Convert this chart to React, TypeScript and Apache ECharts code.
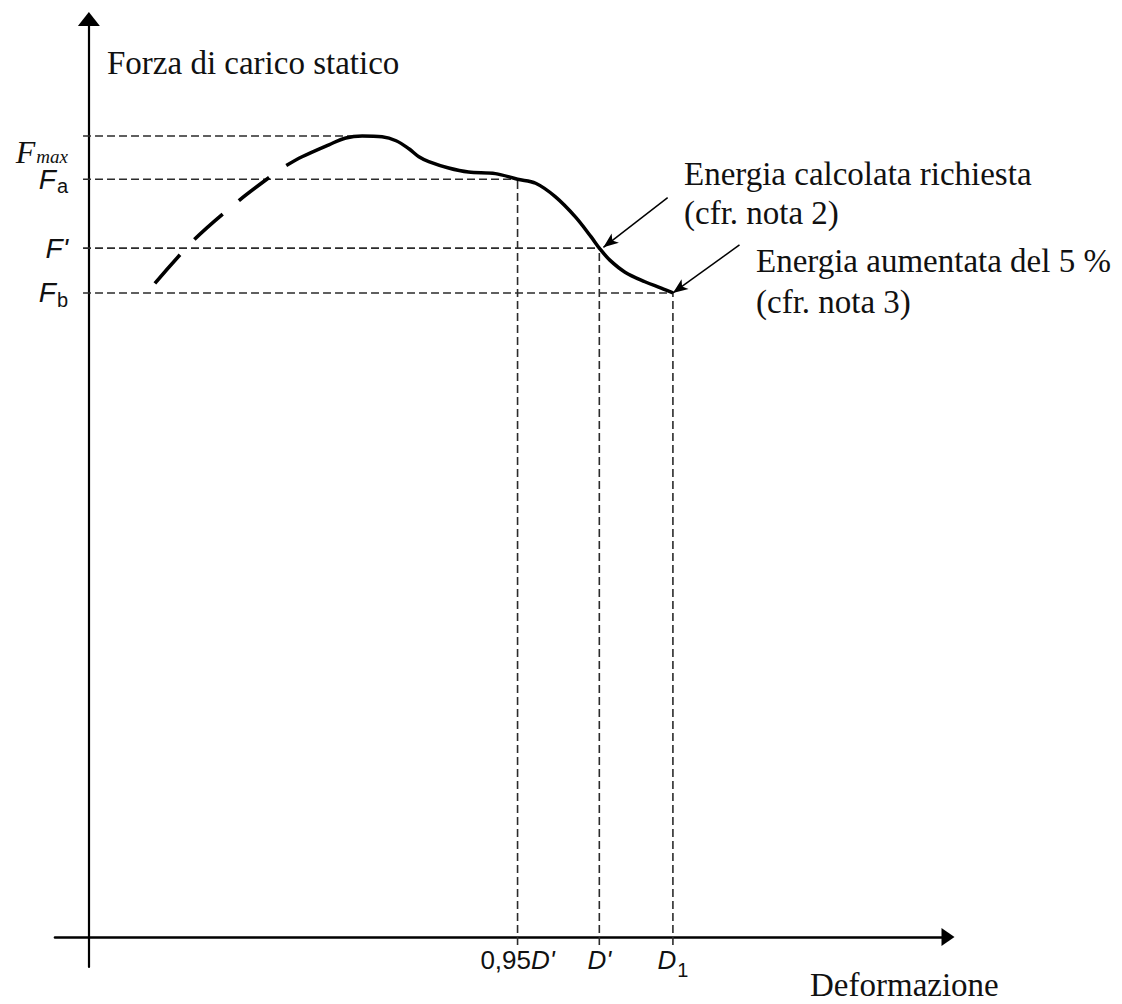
import React, { useEffect, useRef } from 'react';
import * as echarts from 'echarts';

// Force levels (arbitrary units, Fmax = 100)
const levelValues = [100, 94.6, 86.0, 80.4];
const levelRich = ['{fs|F}{ms|max}', '{f|F}{s|a}', "{f|F'}", '{f|F}{s|b}'];
const levelGuideEnds = [45.7, 73.4, 87.4, 100];

// Deformation marks (arbitrary units, D1 = 100)
const deformValues = [73.4, 87.4, 100];
const deformRich = ["{n|0,95}{i|D'}", "{i|D'}", '{i|D}{s|1}'];
const deformGuideTops = [94.6, 86.0, 80.4];

// Initial (dashed) part of the load curve
const risingX = [11.3, 18.1, 25.8, 31.2];
const risingY = [81.6, 87.1, 92.0, 95.0];

// Solid part of the load curve
const curveX = [33.8, 36.5, 41.1, 44.0, 46.8, 50.2, 52.6, 54.8, 56.5, 58.2, 61.6, 65.0, 69.6, 73.4, 76.5, 79.9, 83.3, 86.0, 87.4, 89.2, 91.8, 95.2, 98.0, 100];
const curveY = [96.3, 97.4, 98.9, 99.75, 100, 99.9, 99.4, 98.4, 97.4, 96.8, 96.0, 95.5, 95.3, 94.6, 94.1, 92.4, 89.9, 87.4, 86.0, 84.5, 83.0, 81.8, 81.0, 80.4];

// Annotation arrows
const arrowFromX = [99.1, 111.4];
const arrowFromY = [92.3, 86.4];
const arrowToX = [88.1, 100];
const arrowToY = [86.1, 80.4];

const yAxisTitle = 'Forza di carico statico';
const xAxisTitle = 'Deformazione';
const noteLines = [
  ['Energia calcolata richiesta', '(cfr. nota 2)'],
  ['Energia aumentata del 5 %', '(cfr. nota 3)'],
];

const SERIF = '"Liberation Serif", "Times New Roman", serif';
const SANS = '"Liberation Sans", Arial, sans-serif';

const Y_MIN = -3.74;
const Y_MAX = 114.6;

export default function App() {
  const ref = useRef<HTMLDivElement>(null);

  useEffect(() => {
    if (!ref.current) return;
    const chart = echarts.init(ref.current, undefined, { renderer: 'svg' });

    const guideStyle = { type: [8, 4] as any, width: 1.6, color: '#2b2b2b' };
    const series: any[] = [];

    levelValues.forEach((y, i) => {
      series.push({
        type: 'line', silent: true, symbol: 'none',
        data: [[-1, y], [levelGuideEnds[i], y]],
        lineStyle: guideStyle,
      });
    });
    deformValues.forEach((x, i) => {
      series.push({
        type: 'line', silent: true, symbol: 'none',
        data: [[x, -1], [x, deformGuideTops[i]]],
        lineStyle: guideStyle,
      });
    });

    series.push({
      type: 'line', silent: true, symbol: 'none', smooth: 0.3,
      data: risingX.map((x, i) => [x, risingY[i]]),
      lineStyle: { color: '#000', width: 3.6, type: [38, 21] as any },
    });

    series.push({
      type: 'line', silent: true, symbol: 'none', smooth: 0.35,
      data: curveX.map((x, i) => [x, curveY[i]]),
      lineStyle: { color: '#000', width: 3.5 },
      markLine: {
        silent: true,
        symbol: ['none', 'arrow'],
        symbolSize: [9, 15],
        label: { show: false },
        lineStyle: { color: '#000', width: 1.5, type: 'solid' },
        emphasis: { disabled: true },
        data: arrowFromX.map((x, i) => [
          { coord: [x, arrowFromY[i]] },
          { coord: [arrowToX[i], arrowToY[i]] },
        ]),
      },
    });

    const textStyle = (text: string) => ({ text, font: `33px ${SERIF}`, fill: '#111', verticalAlign: 'middle' });
    const graphicTexts: any[] = [
      { type: 'text', x: 107, y: 63, style: textStyle(yAxisTitle) },
      { type: 'text', x: 810, y: 985, style: textStyle(xAxisTitle) },
      { type: 'text', x: 684, y: 174, style: textStyle(noteLines[0][0]) },
      { type: 'text', x: 684, y: 213, style: textStyle(noteLines[0][1]) },
      { type: 'text', x: 756, y: 261, style: textStyle(noteLines[1][0]) },
      { type: 'text', x: 756, y: 302, style: textStyle(noteLines[1][1]) },
    ];

    const labelFor = (v: number) => {
      const i = levelValues.findIndex((d) => Math.abs(d - v) < 1e-6);
      return i >= 0 ? levelRich[i] : '';
    };

    const richY = {
      f: { fontFamily: SANS, fontStyle: 'italic', fontSize: 28, lineHeight: 28, verticalAlign: 'top', color: '#111' },
      s: { fontFamily: SANS, fontSize: 20, lineHeight: 17, verticalAlign: 'top', padding: [11, 0, 0, 1], color: '#111' },
      fs: { fontFamily: SERIF, fontStyle: 'italic', fontSize: 32, lineHeight: 27, verticalAlign: 'top', color: '#111' },
      ms: { fontFamily: SERIF, fontStyle: 'italic', fontSize: 19, lineHeight: 16, verticalAlign: 'top', padding: [11, 0, 0, 1], color: '#111' },
    };

    chart.setOption({
      animation: false,
      backgroundColor: '#fff',
      grid: { left: 55, right: 174, top: 19, bottom: 37, containLabel: false, outerBoundsMode: 'none' },
      xAxis: {
        type: 'value', min: -5.8, max: 147.1,
        splitLine: { show: false },
        axisTick: { show: false },
        axisLine: {
          show: true, onZero: true,
          symbol: ['none', 'triangle'], symbolSize: [18, 13],
          lineStyle: { color: '#000', width: 2.6 },
        },
        axisLabel: {
          customValues: deformValues,
          margin: -20,
          hideOverlap: false,
          formatter: (v: number) => {
            const i = deformValues.findIndex((d) => Math.abs(d - v) < 1e-6);
            return i >= 0 ? deformRich[i] : '';
          },
          rich: {
            n: { fontFamily: SANS, fontSize: 26, lineHeight: 26, verticalAlign: 'top', color: '#111' },
            i: { fontFamily: SANS, fontStyle: 'italic', fontSize: 26, lineHeight: 26, verticalAlign: 'top', color: '#111' },
            s: { fontFamily: SANS, fontSize: 20, lineHeight: 20, verticalAlign: 'top', padding: [13, 0, 0, 1], color: '#111' },
          },
        },
      },
      yAxis: [
        {
          type: 'value', min: Y_MIN, max: Y_MAX,
          splitLine: { show: false },
          axisTick: { show: false },
          axisLine: {
            show: true, onZero: true,
            symbol: ['none', 'triangle'], symbolSize: [22, 14],
            lineStyle: { color: '#000', width: 2.2 },
          },
          axisLabel: {
            customValues: levelValues.slice(1),
            margin: -13,
            hideOverlap: false,
            formatter: labelFor,
            rich: richY,
          },
        },
        {
          type: 'value', min: Y_MIN, max: Y_MAX, position: 'left',
          splitLine: { show: false },
          axisTick: { show: false },
          axisLine: { show: false },
          axisLabel: {
            customValues: levelValues.slice(0, 1),
            margin: -13,
            verticalAlign: 'top',
            hideOverlap: false,
            formatter: labelFor,
            rich: richY,
          },
        },
      ],
      graphic: graphicTexts,
      series,
    });

    return () => chart.dispose();
  }, []);

  return (
    <div
      ref={ref}
      style={{ position: 'fixed', left: 0, top: 0, width: 1122, height: 1004, background: '#fff' }}
    />
  );
}
